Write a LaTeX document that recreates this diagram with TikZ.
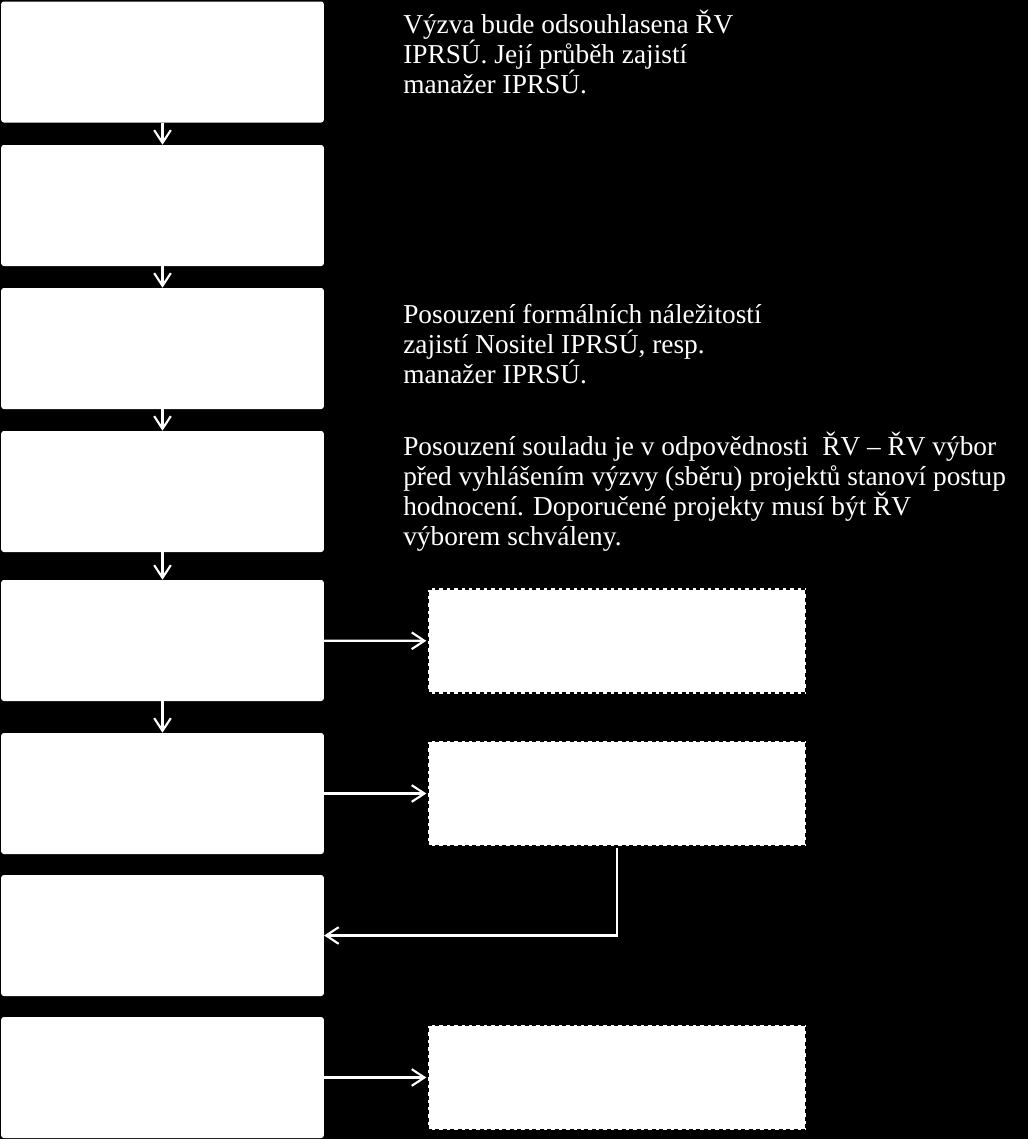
\documentclass[tikz,border=0pt]{standalone}
\usepackage{fontspec}
\setmainfont{Liberation Serif}
\usetikzlibrary{arrows.meta, positioning}

\begin{document}
\begin{tikzpicture}[
        x=0.75pt, y=-0.75pt,
        font=\fontsize{20.5}{22.5}\selectfont,
        comp/.style={fill=white, rounded corners=2pt, minimum width=242pt, minimum height=90.75pt, inner sep=0pt},
        opt/.style={draw=black, fill=white, dash pattern=on 3pt off 2.6pt, line width=2pt, minimum width=284pt, minimum height=79pt, inner sep=0pt},
        remark/.style={text=white, align=left, anchor=base west, inner sep=0pt},
        line/.style={-{Straight Barb[length=9.5pt,width=12.5pt]}, white, line width=1.6pt}
    ]

    % background
    \useasboundingbox (0,0) rectangle (1028,1139);
    \fill[black] (0,0) rectangle (1028,1139);

    % Left: process steps
    \node[comp] (s1) at (162.5,62) {};
    \node[comp] (s2) at (162.5,205.5) {};
    \node[comp] (s3) at (162.5,348.5) {};
    \node[comp] (s4) at (162.5,491.5) {};
    \node[comp] (s5) at (162.5,640.5) {};
    \node[comp] (s6) at (162.5,793.5) {};
    \node[comp] (s7) at (162.5,935.5) {};
    \node[comp] (s8) at (162.5,1077.5) {};

    % Right: optional steps
    \node[opt] (o5) at (617,641) {};
    \node[opt] (o6) at (617,793.5) {};
    \node[opt] (o8) at (617,1077.5) {};

    % Notes (anchored at the baseline of the last line)
    \node[remark] (n1) at (403,93) {Výzva bude odsouhlasena ŘV\\ IPRSÚ. Její průběh zajistí\\ manažer IPRSÚ.};
    \node[remark] (n3) at (403,383) {Posouzení formálních náležitostí\\ zajistí Nositel IPRSÚ, resp.\\ manažer IPRSÚ.};
    \node[remark] (n4) at (403,545) {Posouzení souladu je v odpovědnosti \ ŘV -- ŘV výbor\\ před vyhlášením výzvy (sběru) projektů stanoví postup\\ hodnocení. Doporučené projekty musí být ŘV\\ výborem schváleny.};

    % Arrows
    \foreach \a/\b in {s1/s2, s2/s3, s3/s4, s4/s5, s5/s6}
        \draw[line] (\a) -- (\b);
    \draw[line] (s5) -- (o5);
    \draw[line] (s6) -- (o6);
    \draw[line] (s8) -- (o8);
    \draw[line] (o6.south) |- (s7.east);

\end{tikzpicture}
\end{document}
